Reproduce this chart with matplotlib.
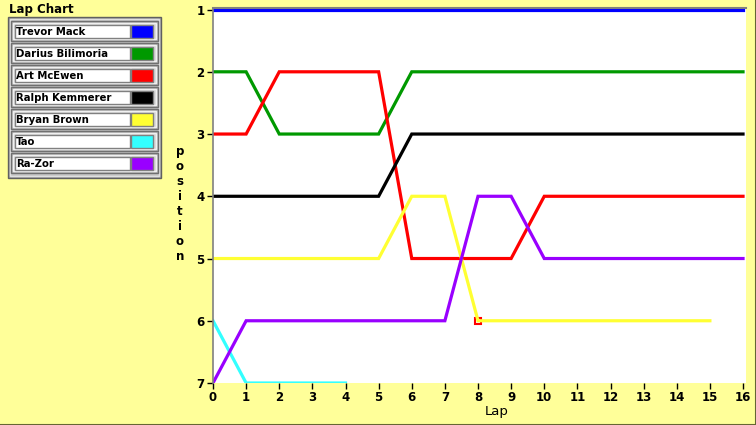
import numpy as np
import matplotlib.pyplot as plt
from matplotlib.patches import Rectangle

# lap chart data
laps = list(range(0, 17))
drivers = ["Trevor Mack", "Darius Bilimoria", "Art McEwen", "Ralph Kemmerer",
           "Bryan Brown", "Tao", "Ra-Zor"]
colors = ["#0000ff", "#009900", "#ff0000", "#000000", "#ffff33", "#33ffff", "#9900ff"]

trevor = [1, 1, 1, 1, 1, 1, 1, 1, 1, 1, 1, 1, 1, 1, 1, 1, 1]
darius = [2, 2, 3, 3, 3, 3, 2, 2, 2, 2, 2, 2, 2, 2, 2, 2, 2]
art = [3, 3, 2, 2, 2, 2, 5, 5, 5, 5, 4, 4, 4, 4, 4, 4, 4]
ralph = [4, 4, 4, 4, 4, 4, 3, 3, 3, 3, 3, 3, 3, 3, 3, 3, 3]
bryan = [5, 5, 5, 5, 5, 5, 4, 4, 6, 6, 6, 6, 6, 6, 6, 6]
tao = [6, 7, 7, 7, 7]
razor = [7, 6, 6, 6, 6, 6, 6, 6, 4, 4, 5, 5, 5, 5, 5, 5, 5]
positions = [trevor, darius, art, ralph, bryan, tao, razor]

marker_lap = 8
marker_pos = 6

bg = "#ffff99"
W, H = 756, 425

fig = plt.figure(figsize=(W / 100, H / 100), dpi=100, facecolor=bg)
ax = fig.add_axes([213 / W, 1 - 383 / H, 533 / W, 375 / H])
ax.set_facecolor("white")

ax.plot(marker_lap, marker_pos, marker="s", ms=5, mfc="none", mec="#ff0000", mew=1.5, zorder=1)
for pos, c in zip(positions, colors):
    ax.plot(laps[:len(pos)], pos, color=c, lw=2.3, solid_joinstyle="miter", zorder=2)

ax.set_xlim(0, 16.09)
ax.set_ylim(7.0, 0.975)
ax.set_xticks(range(0, 17))
ax.set_yticks(range(1, 8))
ax.tick_params(length=4, width=1, color="black", labelsize=8.5, pad=2)
for lab in ax.get_xticklabels() + ax.get_yticklabels():
    lab.set_fontweight("bold")
for s in ["right", "bottom"]:
    ax.spines[s].set_visible(False)
ax.spines["left"].set_color("#808080")
ax.spines["top"].set_color("#808080")
ax.spines["left"].set_linewidth(1.2)
ax.spines["top"].set_linewidth(1.5)

fig.text(497 / W, 1 - 412 / H, "Lap", ha="center", va="center", fontsize=9.5)
fig.text(180 / W, 1 - 204 / H, "\n".join("position"), ha="center", va="center",
         fontsize=8.5, fontweight="bold", linespacing=1.2)
fig.text(9 / W, 1 - 9 / H, "Lap Chart", ha="left", va="center", fontsize=8.5, fontweight="bold")

# legend panel drawn in pixel coordinates
def px_rect(x, y, w, h, **kw):
    fig.patches.append(Rectangle((x / W, 1 - (y + h) / H), w / W, h / H,
                                 transform=fig.transFigure, **kw))

px_rect(8, 17, 153, 161, facecolor="#a0a0a0", edgecolor="#606060", lw=1)
px_rect(10, 19, 149, 157, facecolor="#c8c8c8", edgecolor="#e0e0e0", lw=1)
for i, (name, c) in enumerate(zip(drivers, colors)):
    y0 = 21 + i * 22
    px_rect(11, y0, 147, 20, facecolor="#b0b0b0", edgecolor="#707070", lw=1)
    px_rect(13, y0 + 2, 143, 16, facecolor="#d8d8d8", edgecolor="#f0f0f0", lw=1)
    px_rect(15, y0 + 4, 115, 13, facecolor="white", edgecolor="#808080", lw=1)
    px_rect(131, y0 + 4, 22, 13, facecolor=c, edgecolor="#808080", lw=1)
    fig.text(16 / W, 1 - (y0 + 11) / H, name, ha="left", va="center",
             fontsize=7.3, fontweight="bold")

# window border
fig.add_artist(plt.Line2D([1 - 0.5 / W, 1 - 0.5 / W], [0, 1], color="#666633", lw=1.5,
                          transform=fig.transFigure))
fig.add_artist(plt.Line2D([0, 1], [0.5 / H, 0.5 / H], color="#666633", lw=1.5,
                          transform=fig.transFigure))

fig.savefig("out.png", dpi=100, facecolor=bg)
